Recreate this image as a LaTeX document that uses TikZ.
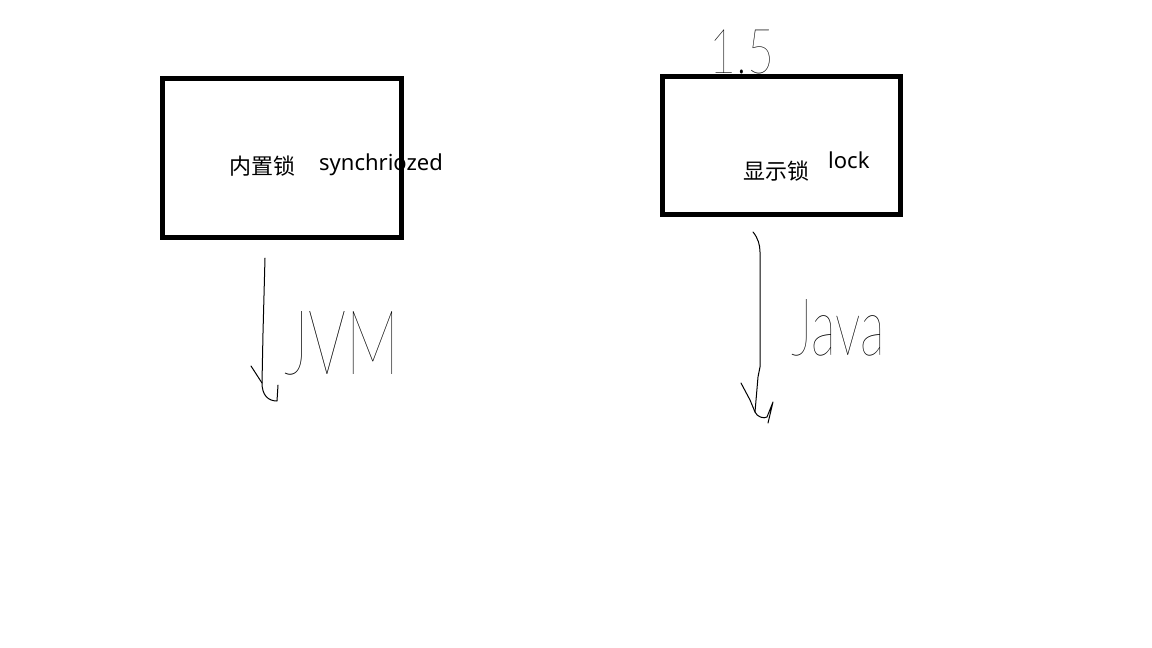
\documentclass[tikz,border=0pt]{standalone}
\usepackage{fontspec}
\setmainfont{Noto Sans}
\newfontfamily\cjk{Noto Sans CJK SC}
\newfontfamily\hand{Lato-Hairline.ttf}
\usetikzlibrary{positioning}

\begin{document}
\begin{tikzpicture}[x=1pt, y=-1pt,
    lockbox/.style={draw, line width=5pt, rectangle},
    label/.style={font=\fontsize{22}{26}\selectfont, inner sep=0pt},
    scribble/.style={font=\hand, inner sep=0pt},
    hand/.style={line width=1pt, line cap=round, line join=round}]
  \useasboundingbox[fill=white] (0,0) rectangle (1152,648);

  % the two kinds of lock
  \node[lockbox, minimum width=239pt, minimum height=159pt] (builtin) at (282,158) {};
  \node[lockbox, minimum width=238pt, minimum height=138pt] (explicit) at (781,145) {};

  \node[label, font=\cjk\fontsize{22}{26}\selectfont] (builtinname) at (262,166) {内置锁};
  \node[label, anchor=base west] (synckw) at (319,170) {synchriozed};
  \node[label, font=\cjk\fontsize{22}{26}\selectfont] (explicitname) at (776,171) {显示锁};
  \node[label, anchor=base west] (lockkw) at (828,168) {lock};

  \node[scribble, xscale=0.75, font=\hand\fontsize{62}{62}\selectfont] (version) at (742,52) {1.5};
  \node[scribble, xscale=0.66, font=\hand\fontsize{90}{90}\selectfont] (jvm) at (342,343) {JVM};
  \node[scribble, xscale=0.65, font=\hand\fontsize{80}{80}\selectfont] (java) at (838,328) {Java};

  % hand-drawn arrows
  \coordinate (jvmtop) at (265,258);
  \coordinate (jvmtip) at (262,383);
  \draw[hand] (jvmtop) -- (263,333) -- (jvmtip)
    .. controls (262,395) and (268,401) .. (277,401) -- (278,385);
  \draw[hand] (251,366) -- (jvmtip);

  \coordinate (javatop) at (753,232);
  \coordinate (javatip) at (755,412);
  \draw[hand] (javatop) .. controls (758,238) and (760,245) .. (760,252)
    -- (760,367) -- (758,377) -- (javatip)
    .. controls (757,417) and (764,419) .. (767,417) -- (773,402) -- (768,423);
  \draw[hand] (741,383) -- (750,400) -- (javatip);
\end{tikzpicture}
\end{document}
